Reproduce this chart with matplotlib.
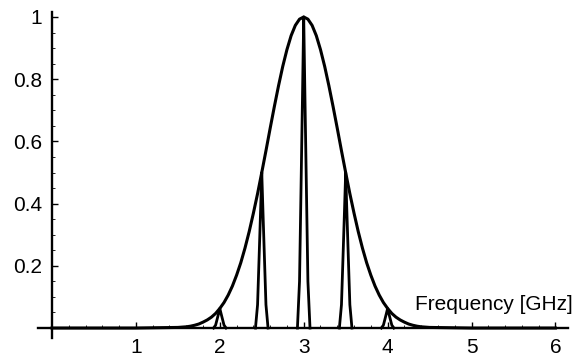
import matplotlib
matplotlib.use("Agg")
import matplotlib.pyplot as plt
from matplotlib.ticker import MultipleLocator, FixedLocator, FixedFormatter
import numpy as np

plt.rcParams['font.family'] = ['Liberation Sans', 'DejaVu Sans']

# Envelope
env_freq = [0.0, 1.0, 1.5, 1.55, 1.6, 1.65, 1.7, 1.75, 1.8, 1.85, 1.9, 1.95,
            2.0, 2.05, 2.1, 2.15, 2.2, 2.25, 2.3, 2.35, 2.4, 2.45,
            2.5, 2.55, 2.6, 2.65, 2.7, 2.75, 2.8, 2.85, 2.9, 2.95,
            3.0, 3.05, 3.1, 3.15, 3.2, 3.25, 3.3, 3.35, 3.4, 3.45,
            3.5, 3.55, 3.6, 3.65, 3.7, 3.75, 3.8, 3.85, 3.9, 3.95,
            4.0, 4.05, 4.1, 4.15, 4.2, 4.25, 4.3, 4.35, 4.4, 4.45, 4.5, 5.0, 6.0]
env_amp = [0.0, 0.0, 0.002, 0.003, 0.004, 0.006, 0.009, 0.013, 0.019, 0.026, 0.035, 0.047,
           0.063, 0.082, 0.106, 0.135, 0.170, 0.210, 0.257, 0.310, 0.369, 0.432,
           0.500, 0.570, 0.642, 0.712, 0.779, 0.841, 0.895, 0.940, 0.973, 0.993,
           1.000, 0.993, 0.973, 0.940, 0.895, 0.841, 0.779, 0.712, 0.642, 0.570,
           0.500, 0.432, 0.369, 0.310, 0.257, 0.210, 0.170, 0.135, 0.106, 0.082,
           0.063, 0.047, 0.035, 0.026, 0.019, 0.013, 0.009, 0.006, 0.004, 0.003, 0.002, 0.0, 0.0]

# Spectral lines
line_freq = [2.0, 2.5, 3.0, 3.5, 4.0]
line_amp = [0.063, 0.50, 1.00, 0.50, 0.063]
line_offset = [-0.075, -0.05, -0.032, -0.016, 0.0, 0.016, 0.032, 0.05, 0.075]
line_shape = [0.0, 0.15, 0.45, 0.72, 1.0, 0.72, 0.45, 0.15, 0.0]

x_ticks = [1, 2, 3, 4, 5, 6]
x_labels = ['1', '2', '3', '4', '5', '6']
y_ticks = [0.2, 0.4, 0.6, 0.8, 1.0]
y_labels = ['0.2', '0.4', '0.6', '0.8', '1']
x_title = 'Frequency [GHz]'

fig = plt.figure(figsize=(5.82, 3.57), dpi=100)
ax = fig.add_axes([38 / 582, 1 - 338 / 357, 530 / 582, 326 / 357])
ax.set_xlim(-0.167, 6.15)
ax.set_ylim(-0.032, 1.016)

ax.plot(env_freq, env_amp, color='black', lw=2.2, solid_joinstyle='round')
off = np.array(line_offset)
shp = np.array(line_shape)
for f, a in zip(line_freq, line_amp):
    ax.plot(f + off, a * shp, color='black', lw=2.0)

for s in ['top', 'right']:
    ax.spines[s].set_visible(False)
ax.spines['left'].set_position(('data', 0))
ax.spines['bottom'].set_position(('data', 0))
for s in ['left', 'bottom']:
    ax.spines[s].set_linewidth(1.7)

ax.xaxis.set_major_locator(FixedLocator(x_ticks))
ax.xaxis.set_major_formatter(FixedFormatter(x_labels))
ax.xaxis.set_minor_locator(MultipleLocator(0.2))
ax.yaxis.set_major_locator(FixedLocator(y_ticks))
ax.yaxis.set_major_formatter(FixedFormatter(y_labels))
ax.yaxis.set_minor_locator(MultipleLocator(0.05))

ax.tick_params(axis='both', which='major', direction='in', length=4, width=1.0, labelsize=15)
ax.tick_params(axis='both', which='minor', direction='in', length=2, width=0.6)
ax.tick_params(axis='x', which='major', pad=7)
ax.tick_params(axis='y', which='major', pad=7)

ax.text(6.21, 0.058, x_title, ha='right', va='baseline', fontsize=15, clip_on=False)

fig.savefig('out.png', dpi=100)
